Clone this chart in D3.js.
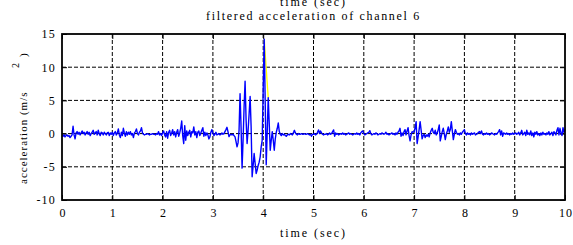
<!DOCTYPE html>
<html><head><meta charset="utf-8">
<script src="https://cdn.jsdelivr.net/npm/d3@7/dist/d3.min.js"></script>
<style>
body{margin:0;background:#fff}
</style>
</head><body>
<svg id="c" width="573" height="245"></svg>
<script>
// ---- data ----
const sampleInterval = 0.02; // seconds between samples
const accel = [
-0.3,-0.4,-0.2,-0.5,-0.3,-0.2,-0.4,-0.3,-0.6,-0.4,
-0.2,1.1,-0.2,-0.8,0.1,0.3,-0.1,0.2,-0.2,0.1,
0.4,0.0,0.2,-0.2,0.1,0.3,-0.1,0.2,-0.3,0.0,
0.2,0.5,-0.1,0.1,0.3,-0.2,0.5,0.0,-0.3,0.2,
0.1,-0.2,0.2,0.0,-0.2,0.1,0.2,-0.3,0.1,-0.1,
0.2,-0.3,0.1,0.3,-0.2,0.1,0.7,-0.2,-0.6,0.2,
-0.3,0.8,0.1,-0.4,0.3,-0.2,0.2,-0.1,0.3,-0.2,
0.0,-0.6,0.1,0.3,0.7,0.0,-0.2,0.2,0.4,0.9,
0.1,-0.1,-0.2,-0.1,-0.1,0.0,-0.1,-0.2,-0.1,-0.1,
0.0,-0.1,-0.1,-0.2,0.0,-0.1,0.3,-0.2,0.0,-0.3,
0.1,0.4,-0.2,-0.5,0.3,-0.7,0.2,0.5,-0.3,0.1,
0.6,-0.2,0.3,-0.5,0.2,0.6,-0.4,0.1,0.8,1.9,
-0.3,-1.5,1.2,-1.0,0.4,-0.3,0.2,0.5,-0.5,0.3,
0.1,1.0,-0.2,0.3,-0.6,0.2,0.4,-0.3,0.1,0.5,
0.9,-0.4,0.2,-0.3,0.1,-0.2,-0.8,-0.5,0.2,0.6,
0.1,-0.3,-0.1,0.2,-0.2,-0.1,0.0,-0.2,-0.1,0.1,
-0.1,0.0,0.3,0.6,0.95,0.3,-0.45,-0.2,-0.1,-0.2,
-0.1,-0.3,-0.5,-1.2,-2.0,-1.4,0.5,6.0,1.0,-5.2,
-1.0,4.0,7.9,2.0,-1.5,0.5,3.0,5.6,1.0,-6.5,
-4.8,-3.0,-4.5,-6.0,-5.5,-4.8,-4.3,-3.5,-2.0,-1.0,
6.6,14.2,4.7,-4.7,0.3,5.4,1.5,-2.5,-1.0,0.3,
-1.0,-2.5,-0.8,0.2,0.8,1.6,0.3,-0.1,-0.3,0.0,
-0.2,-0.1,-0.3,-0.4,-0.2,-0.1,-0.2,0.0,-0.1,-0.2,
0.1,0.5,0.1,-0.1,-0.2,0.0,-0.1,-0.1,0.0,-0.1,
-0.1,0.0,-0.1,-0.1,0.0,-0.1,-0.2,-0.1,-0.4,-0.1,
-0.1,0.0,-0.2,-0.1,0.2,0.55,0.0,0.4,0.1,-0.1,
-0.2,-0.1,-0.1,0.0,-0.2,-0.1,0.1,-0.1,0.0,0.3,
0.55,-0.4,0.1,-0.1,0.0,-0.2,-0.1,0.0,-0.1,0.1,
-0.1,0.0,-0.2,-0.1,0.0,0.1,-0.1,0.0,-0.1,-0.2,
-0.1,0.0,-0.1,0.1,-0.1,0.0,-0.2,0.1,0.3,0.4,
0.0,-0.2,-0.1,0.0,0.1,0.2,0.45,0.0,-0.2,-0.1,
0.0,-0.1,0.1,0.0,-0.2,-0.1,0.0,-0.1,0.1,0.0,
-0.1,0.0,0.2,-0.1,0.0,-0.2,-0.1,0.0,0.1,-0.1,
0.0,-0.2,0.1,-0.1,0.2,0.4,0.8,-0.4,0.1,-0.3,
0.3,0.6,-0.2,0.4,0.9,-0.3,-1.1,-0.2,0.3,0.2,
0.3,0.8,1.8,-1.5,-0.5,0.6,1.8,0.5,-0.8,-0.3,
-0.1,-0.6,-0.2,-0.4,-0.1,-0.5,0.1,0.5,0.8,0.2,
0.0,0.5,-0.2,0.1,0.6,1.3,-1.1,-0.4,0.3,0.8,
0.0,-0.9,-0.1,0.4,1.0,0.2,0.6,1.8,0.4,-0.9,
-0.1,0.6,0.2,-0.1,0.0,-0.2,0.1,-0.1,0.2,0.4,
0.6,0.0,-0.2,0.1,-0.1,0.0,-0.2,0.1,-0.1,0.0,
0.1,-0.2,-0.1,0.0,0.2,0.3,0.0,0.4,-0.1,-0.2,
0.0,-0.1,0.1,-0.1,0.0,-0.2,-0.1,0.1,0.0,-0.1,
-0.2,0.0,-0.1,0.1,0.3,0.6,-0.2,0.4,-0.4,0.1,
0.0,-0.1,0.1,-0.1,0.0,-0.2,0.0,-0.1,0.1,-0.1,
0.0,0.1,-0.1,0.0,0.2,-0.2,0.1,0.5,-0.2,0.0,
0.2,-0.3,0.5,-0.1,0.1,-0.2,0.4,-0.3,0.1,-0.5,
0.2,-0.1,0.3,-0.2,0.0,-0.3,0.1,-0.2,0.2,-0.1,
0.0,-0.2,0.1,-0.1,0.3,-0.2,0.0,0.2,-0.3,0.3,
0.1,-0.2,0.5,0.9,-0.2,0.8,0.1,-0.3,0.9,0.2,
0.6
];
const overlayTimes = [4.02, 4.10];
const overlayValues = [14.2, 5.4];
const xTicks = [0,1,2,3,4,5,6,7,8,9,10];
const yTicks = [-10,-5,0,5,10,15];
const titleText = "filtered acceleration of channel 6";
const topLabel = "time (sec)";
const xLabel = "time (sec)";
const yLabel = "acceleration (m/s";
const yLabelSup = "2";
const yLabelClose = ")";

// ---- chart ----
const FONT = "'Liberation Serif', Tinos, 'Times New Roman', Times, 'DejaVu Serif', serif";
const svg = d3.select("#c");
const L = 62, R = 565, T = 34, B = 200;
const x = d3.scaleLinear().domain([0,10]).range([L,R]);
const y = d3.scaleLinear().domain([-10,15]).range([B,T]);
const styleText = (s, ls="1px") => s.style("font-family",FONT).style("font-size","12px")
  .style("letter-spacing",ls).attr("fill","#000");
// spread a text's letters so it spans a given width (as in the reference rendering)
function fitWidth(sel, target){
  sel.style("letter-spacing","0px");
  const w = sel.node().getComputedTextLength();
  const n = sel.text().length;
  sel.style("letter-spacing", Math.max(0,(target - w)/(n-0.5)) + "px");
}

// grid
svg.append("g").selectAll("line").data(xTicks.filter(d=>d>0&&d<10)).join("line")
  .attr("x1",d=>x(d)).attr("x2",d=>x(d)).attr("y1",T).attr("y2",B)
  .attr("stroke","#000").attr("stroke-width",1).attr("stroke-dasharray","4,2");
svg.append("g").selectAll("line").data(yTicks.filter(d=>d>-10&&d<15)).join("line")
  .attr("y1",d=>y(d)).attr("y2",d=>y(d)).attr("x1",L).attr("x2",R)
  .attr("stroke","#000").attr("stroke-width",1).attr("stroke-dasharray","4,2");

// axes
const fmt = d => d<0 ? "-" + Math.abs(d) : String(d);
const gx = svg.append("g").attr("transform",`translate(0,${B})`)
  .call(d3.axisBottom(x).tickValues(xTicks).tickSize(-5).tickPadding(8).tickFormat(fmt));
const gxTop = svg.append("g").attr("transform",`translate(0,${T})`)
  .call(d3.axisTop(x).tickValues(xTicks).tickSize(-5).tickFormat(""));
const gy = svg.append("g").attr("transform",`translate(${L},0)`)
  .call(d3.axisLeft(y).tickValues(yTicks).tickSize(-5).tickPadding(6).tickFormat(fmt));
const gyR = svg.append("g").attr("transform",`translate(${R},0)`)
  .call(d3.axisRight(y).tickValues(yTicks).tickSize(-5).tickFormat(""));
[gx,gxTop,gy,gyR].forEach(g=>{
  g.attr("font-family",null).attr("font-size",null);
  g.select(".domain").remove();
  g.selectAll(".tick line").attr("stroke","#000").attr("stroke-width",1);
  g.selectAll("text").call(styleText, "1.2px");
});
gx.selectAll("text").attr("dy","0.71em").attr("dx","0.6px");

// signal
const line = d3.line().x(d=>x(d[0])).y(d=>y(d[1]));
const overlay = overlayTimes.map((t,i)=>[t, overlayValues[i]]);
svg.append("path").datum(overlay).attr("d",line)
  .attr("fill","none").attr("stroke","#ffff00").attr("stroke-width",1.3);
const series = accel.map((v,i)=>[i*sampleInterval, v]);
svg.append("path").datum(series).attr("d",line)
  .attr("fill","none").attr("stroke","#0000ff").attr("stroke-width",1.4)
  .attr("stroke-linejoin","round");

// box
svg.append("rect").attr("x",L).attr("y",T).attr("width",R-L).attr("height",B-T)
  .attr("fill","none").attr("stroke","#000").attr("stroke-width",1.8);

// labels
const mid = (L+R)/2;
const tTop = svg.append("text").attr("x",mid).attr("y",6).attr("text-anchor","middle")
  .call(styleText).text(topLabel);
fitWidth(tTop, 66);
const tTitle = svg.append("text").attr("x",mid).attr("y",20).attr("text-anchor","middle")
  .call(styleText).text(titleText);
fitWidth(tTitle, 214);
const tX = svg.append("text").attr("x",mid).attr("y",237).attr("text-anchor","middle")
  .call(styleText).text(xLabel);
fitWidth(tX, 66);
const tY = svg.append("text").attr("transform","translate(27,184) rotate(-90)")
  .call(styleText).style("font-size","11px").text(yLabel);
fitWidth(tY, 92);
svg.append("text").attr("transform","translate(19,68) rotate(-90)")
  .call(styleText).style("font-size","10px").text(yLabelSup);
svg.append("text").attr("transform","translate(27,57) rotate(-90)")
  .call(styleText).style("font-size","11px").text(yLabelClose);
</script>
</body></html>
